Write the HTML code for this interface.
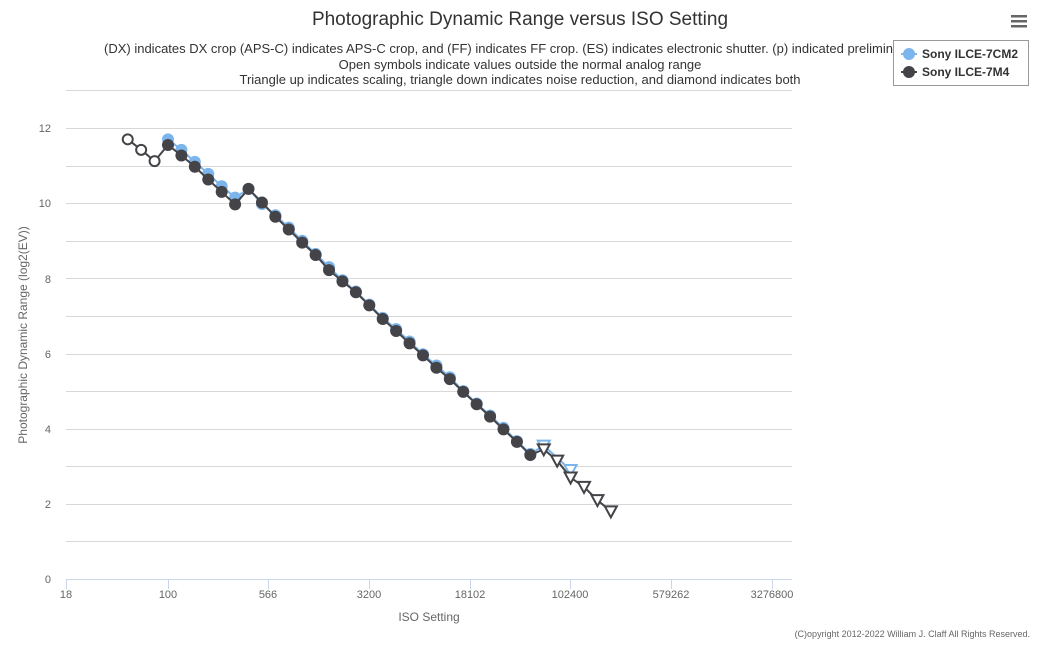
<!DOCTYPE html>
<html><head><meta charset="utf-8"><style>
body{margin:0;background:#fff;font-family:"Liberation Sans",sans-serif}
svg text{font-family:"Liberation Sans",sans-serif}
</style></head><body>
<svg id="s" width="1040" height="642" xmlns="http://www.w3.org/2000/svg">
<rect width="1040" height="642" fill="#fff"/>
<g id="grid" stroke="#d8d8d8" stroke-width="1"></g>
<line x1="66" y1="579.5" x2="792" y2="579.5" stroke="#ccd6eb"/>
<text x="520" y="25" text-anchor="middle" font-size="19" fill="#333">Photographic Dynamic Range versus ISO Setting</text>
<text x="104" y="53" font-size="13" fill="#333">(DX) indicates DX crop (APS-C) indicates APS-C crop, and (FF) indicates FF crop. (ES) indicates electronic shutter. (p) indicated preliminary</text>
<text x="520" y="69" text-anchor="middle" font-size="13" fill="#333">Open symbols indicate values outside the normal analog range</text>
<text x="520" y="84" text-anchor="middle" font-size="13" fill="#333">Triangle up indicates scaling, triangle down indicates noise reduction, and diamond indicates both</text>
<g font-size="11" fill="#666" text-anchor="end">
<text x="51" y="583">0</text><text x="51" y="508">2</text><text x="51" y="433">4</text><text x="51" y="358">6</text><text x="51" y="283">8</text><text x="51" y="207">10</text><text x="51" y="132">12</text>
</g>
<g font-size="11" fill="#666" text-anchor="middle">
<text x="66" y="598">18</text><text x="168" y="598">100</text><text x="268" y="598">566</text><text x="369" y="598">3200</text><text x="470" y="598">18102</text><text x="570" y="598">102400</text><text x="671" y="598">579262</text><text x="772" y="598">3276800</text>
</g>
<g id="ticks" stroke="#ccd6eb"></g>
<text x="429" y="621" text-anchor="middle" font-size="12" fill="#666">ISO Setting</text>
<text transform="translate(27,335) rotate(-90)" text-anchor="middle" font-size="12" fill="#666">Photographic Dynamic Range (log2(EV))</text>
<text x="1030" y="637" text-anchor="end" font-size="9" fill="#666">(C)opyright 2012-2022 William J. Claff All Rights Reserved.</text>
<g fill="#666"><rect x="1011" y="15" width="16" height="2.5"/><rect x="1011" y="20" width="16" height="2.5"/><rect x="1011" y="25" width="16" height="2.5"/></g>
<g id="series"></g>
<rect x="893.5" y="40.5" width="135" height="45" fill="#fff" stroke="#999"/>
<line x1="901" y1="54" x2="917" y2="54" stroke="#7cb5ec" stroke-width="2"/><circle cx="909" cy="54" r="6" fill="#7cb5ec"/>
<text x="922" y="58" font-size="12" font-weight="bold" fill="#333">Sony ILCE-7CM2</text>
<line x1="901" y1="72" x2="917" y2="72" stroke="#434348" stroke-width="2"/><circle cx="909" cy="72" r="6" fill="#434348"/>
<text x="922" y="76" font-size="12" font-weight="bold" fill="#333">Sony ILCE-7M4</text>
</svg>
<script>
var NS="http://www.w3.org/2000/svg";
function el(p,t,a){var e=document.createElementNS(NS,t);for(var k in a)e.setAttribute(k,a[k]);p.appendChild(e);return e;}
var g=document.getElementById('grid');
for(var v=0;v<=13;v++){var y=Math.round(579-v*37.58)+0.5;if(v>0)el(g,'line',{x1:66,x2:792,y1:y,y2:y});}
var tk=document.getElementById('ticks');
[66,168,268,369,470,570,671,772].forEach(function(x){el(tk,'line',{x1:x+.5,x2:x+.5,y1:579,y2:589});});
function X(i){return 168+i*13.42;}
function Y(v){return 579-v*37.58;}
var dark=[[-3,11.7,'o'],[-2,11.42,'o'],[-1,11.12,'o'],[0,11.55],[1,11.27],[2,10.97],[3,10.63],[4,10.3],[5,9.97],[6,10.38],[7,10.02],[8,9.64],[9,9.3],[10,8.95],[11,8.62],[12,8.22],[13,7.92],[14,7.63],[15,7.28],[16,6.92],[17,6.6],[18,6.27],[19,5.95],[20,5.62],[21,5.32],[22,4.98],[23,4.65],[24,4.32],[25,3.98],[26,3.65],[27,3.3],[28,3.45,'t'],[29,3.15,'t'],[30,2.7,'t'],[31,2.45,'t'],[32,2.1,'t'],[33,1.8,'t']];
var blue=[[0,11.7],[1,11.42],[2,11.1],[3,10.78],[4,10.45],[5,10.15],[6,10.38],[7,9.98],[8,9.68],[9,9.35],[10,9.0],[11,8.65],[12,8.3],[13,7.95],[14,7.65],[15,7.3],[16,6.95],[17,6.65],[18,6.32],[19,5.98],[20,5.68],[21,5.37],[22,5.0],[23,4.67],[24,4.35],[25,4.02],[26,3.67],[27,3.33],[28,3.55,'t'],[30,2.9,'t']];
var s=document.getElementById('series');
function draw(d,c){
 el(s,'polyline',{points:d.map(function(p){return X(p[0])+','+Y(p[1]);}).join(' '),fill:'none',stroke:c,'stroke-width':2});
 d.forEach(function(p){var x=X(p[0]),y=Y(p[1]);
  if(p[2]=='t'){el(s,'path',{d:'M'+(x-6)+' '+(y-5)+'L'+(x+6)+' '+(y-5)+'L'+x+' '+(y+6)+'Z',fill:'#fff',stroke:c,'stroke-width':2});}
  else if(p[2]=='o'){el(s,'circle',{cx:x,cy:y,r:5,fill:'#fff',stroke:c,'stroke-width':2});}
  else el(s,'circle',{cx:x,cy:y,r:6,fill:c});
 });
}
draw(blue,'#7cb5ec');draw(dark,'#434348');
</script>
</body></html>
